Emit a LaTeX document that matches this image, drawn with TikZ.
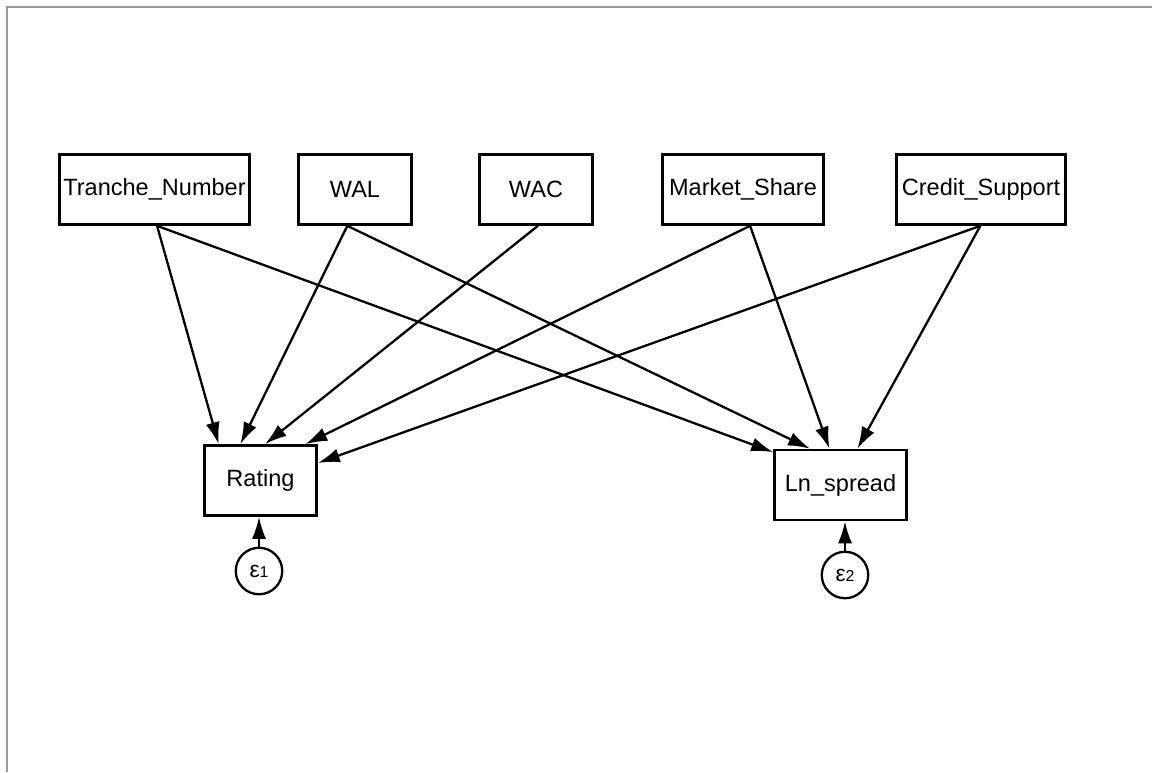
\documentclass[tikz,border=0pt]{standalone}
\usepackage{fontspec}
\setmainfont{Liberation Sans}
\usetikzlibrary{arrows.meta}

\begin{document}
\begin{tikzpicture}[x=0.02cm,y=-0.02cm]
%
\useasboundingbox (0,0) rectangle (1152,772);
%
\definecolor{cframe}{rgb}{0.6,0.6,0.6}
\definecolor{cv}{rgb}{0.0,0.0,0.0}
\definecolor{cfv}{rgb}{1.0,1.0,1.0}
\definecolor{clv}{rgb}{0.0,0.0,0.0}
\definecolor{cpath}{rgb}{0.0,0.0,0.0}
%
\tikzset{
  obsvar/.style={draw=cv,fill=cfv,text=clv,shape=rectangle,line width=1.5pt,
    minimum height=1.40cm,inner sep=0pt,font=\fontsize{13.4}{16}\selectfont},
  errvar/.style={draw=cv,fill=cfv,text=clv,shape=circle,line width=1.3pt,
    minimum size=0.93cm,inner sep=0pt,font=\fontsize{13}{15}\selectfont},
  effect/.style={draw=cpath,line width=1.3pt,-{Latex[length=0.44cm,width=0.28cm]}}
}
%
\draw[cframe,line width=0.7pt] (7,772) -- (7,7) -- (1152,7);
%
\node[obsvar,minimum width=3.80cm] (tranche) at (154.5,189.5) {Tranche\_Number};
\node[obsvar,minimum width=2.26cm] (wal) at (355,189.5) {WAL};
\node[obsvar,minimum width=2.26cm] (wac) at (536,189.5) {WAC};
\node[obsvar,minimum width=3.22cm] (market) at (743,189.5) {Market\_Share};
\node[obsvar,minimum width=3.38cm] (credit) at (981,189.5) {Credit\_Support};
\node[obsvar,minimum width=2.24cm] (rating) at (260.5,480.5) {Rating};
\node[obsvar,minimum width=2.64cm] (lnspread) at (840.5,485) {Ln\_spread};
\node[errvar] (e1) at (259,571) {ε{\fontsize{9}{9}\selectfont 1}};
\node[errvar] (e2) at (845,575) {ε{\fontsize{9}{9}\selectfont 2}};
%
\draw[effect] (tranche.-86) -- (rating.139);
\draw[effect] (tranche.-86) -- (lnspread.154.6);
\draw[effect] (wal.-102) -- (rating.119);
\draw[effect] (wal.-102) -- (lnspread.130);
\draw[effect] (wac.-87) -- (rating.83);
\draw[effect] (market.-79) -- (rating.39.4);
\draw[effect] (market.-79) -- (lnspread.107.7);
\draw[effect] (credit.-91.5) -- (rating.17);
\draw[effect] (credit.-91.5) -- (lnspread.65.4);
\draw[effect] (e1) -- (e1 |- rating.south);
\draw[effect] (e2) -- (e2 |- lnspread.south);
%
\end{tikzpicture}
\end{document}
